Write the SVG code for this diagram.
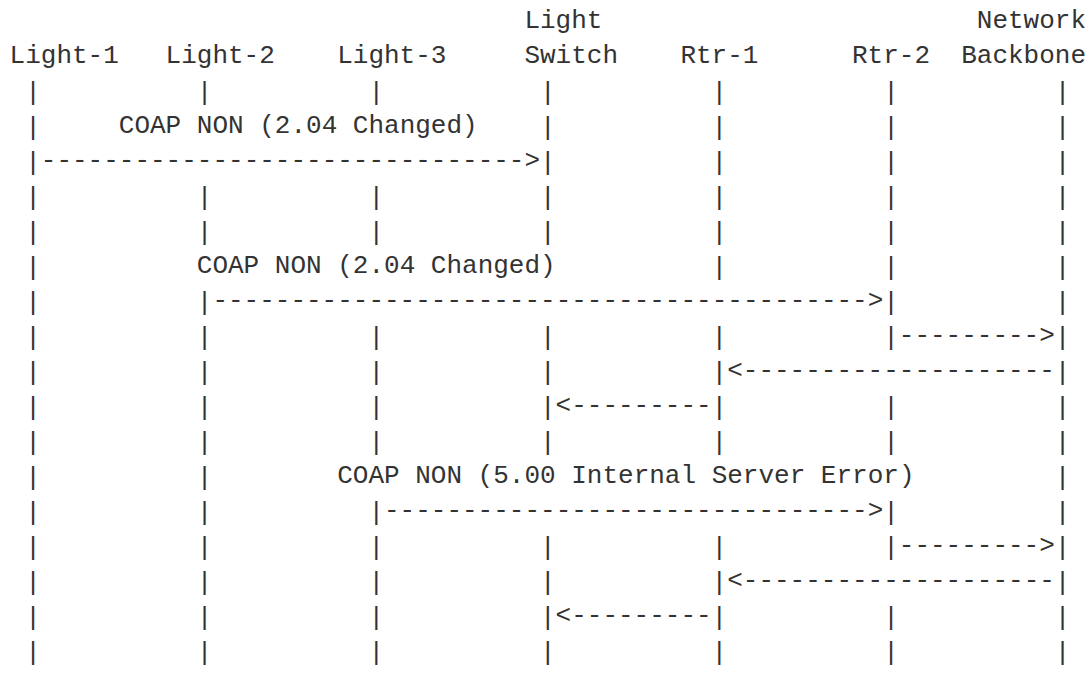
<svg xmlns="http://www.w3.org/2000/svg" width="1087" height="675" viewBox="0 0 1087 675">
<style>
text{font-family:"Liberation Mono","DejaVu Sans Mono",monospace;font-size:26px;fill:#333;white-space:pre}
</style>
<rect width="1087" height="675" fill="#fff"/>
<g id="light-1">
<text x="9.6" y="63.3">Light-1</text>
<text x="25.2"><tspan x="25.2" y="99.5">|</tspan><tspan x="25.2" y="134.5">|</tspan><tspan x="25.2" y="169.5">|</tspan><tspan x="25.2" y="204.5">|</tspan><tspan x="25.2" y="239.5">|</tspan><tspan x="25.2" y="274.5">|</tspan><tspan x="25.2" y="309.5">|</tspan><tspan x="25.2" y="344.5">|</tspan><tspan x="25.2" y="379.5">|</tspan><tspan x="25.2" y="414.5">|</tspan><tspan x="25.2" y="449.5">|</tspan><tspan x="25.2" y="484.5">|</tspan><tspan x="25.2" y="519.5">|</tspan><tspan x="25.2" y="554.5">|</tspan><tspan x="25.2" y="589.5">|</tspan><tspan x="25.2" y="624.5">|</tspan><tspan x="25.2" y="659.5">|</tspan></text>
</g>
<g id="light-2">
<text x="165.6" y="63.3">Light-2</text>
<text x="196.8"><tspan x="196.8" y="99.5">|</tspan><tspan x="196.8" y="204.5">|</tspan><tspan x="196.8" y="239.5">|</tspan><tspan x="196.8" y="309.5">|</tspan><tspan x="196.8" y="344.5">|</tspan><tspan x="196.8" y="379.5">|</tspan><tspan x="196.8" y="414.5">|</tspan><tspan x="196.8" y="449.5">|</tspan><tspan x="196.8" y="484.5">|</tspan><tspan x="196.8" y="519.5">|</tspan><tspan x="196.8" y="554.5">|</tspan><tspan x="196.8" y="589.5">|</tspan><tspan x="196.8" y="624.5">|</tspan><tspan x="196.8" y="659.5">|</tspan></text>
</g>
<g id="light-3">
<text x="337.2" y="63.3">Light-3</text>
<text x="368.4"><tspan x="368.4" y="99.5">|</tspan><tspan x="368.4" y="204.5">|</tspan><tspan x="368.4" y="239.5">|</tspan><tspan x="368.4" y="344.5">|</tspan><tspan x="368.4" y="379.5">|</tspan><tspan x="368.4" y="414.5">|</tspan><tspan x="368.4" y="449.5">|</tspan><tspan x="368.4" y="519.5">|</tspan><tspan x="368.4" y="554.5">|</tspan><tspan x="368.4" y="589.5">|</tspan><tspan x="368.4" y="624.5">|</tspan><tspan x="368.4" y="659.5">|</tspan></text>
</g>
<g id="light-switch">
<text x="524.4" y="28.3">Light</text>
<text x="524.4" y="63.3">Switch</text>
<text x="540"><tspan x="540" y="99.5">|</tspan><tspan x="540" y="134.5">|</tspan><tspan x="540" y="169.5">|</tspan><tspan x="540" y="204.5">|</tspan><tspan x="540" y="239.5">|</tspan><tspan x="540" y="344.5">|</tspan><tspan x="540" y="379.5">|</tspan><tspan x="540" y="414.5">|</tspan><tspan x="540" y="449.5">|</tspan><tspan x="540" y="554.5">|</tspan><tspan x="540" y="589.5">|</tspan><tspan x="540" y="624.5">|</tspan><tspan x="540" y="659.5">|</tspan></text>
</g>
<g id="rtr-1">
<text x="680.4" y="63.3">Rtr-1</text>
<text x="711.6"><tspan x="711.6" y="99.5">|</tspan><tspan x="711.6" y="134.5">|</tspan><tspan x="711.6" y="169.5">|</tspan><tspan x="711.6" y="204.5">|</tspan><tspan x="711.6" y="239.5">|</tspan><tspan x="711.6" y="274.5">|</tspan><tspan x="711.6" y="344.5">|</tspan><tspan x="711.6" y="379.5">|</tspan><tspan x="711.6" y="414.5">|</tspan><tspan x="711.6" y="449.5">|</tspan><tspan x="711.6" y="554.5">|</tspan><tspan x="711.6" y="589.5">|</tspan><tspan x="711.6" y="624.5">|</tspan><tspan x="711.6" y="659.5">|</tspan></text>
</g>
<g id="rtr-2">
<text x="852" y="63.3">Rtr-2</text>
<text x="883.2"><tspan x="883.2" y="99.5">|</tspan><tspan x="883.2" y="134.5">|</tspan><tspan x="883.2" y="169.5">|</tspan><tspan x="883.2" y="204.5">|</tspan><tspan x="883.2" y="239.5">|</tspan><tspan x="883.2" y="274.5">|</tspan><tspan x="883.2" y="309.5">|</tspan><tspan x="883.2" y="344.5">|</tspan><tspan x="883.2" y="414.5">|</tspan><tspan x="883.2" y="449.5">|</tspan><tspan x="883.2" y="519.5">|</tspan><tspan x="883.2" y="554.5">|</tspan><tspan x="883.2" y="624.5">|</tspan><tspan x="883.2" y="659.5">|</tspan></text>
</g>
<g id="network-backbone">
<text x="976.8" y="28.3">Network</text>
<text x="961.2" y="63.3">Backbone</text>
<text x="1054.8"><tspan x="1054.8" y="99.5">|</tspan><tspan x="1054.8" y="134.5">|</tspan><tspan x="1054.8" y="169.5">|</tspan><tspan x="1054.8" y="204.5">|</tspan><tspan x="1054.8" y="239.5">|</tspan><tspan x="1054.8" y="274.5">|</tspan><tspan x="1054.8" y="309.5">|</tspan><tspan x="1054.8" y="344.5">|</tspan><tspan x="1054.8" y="379.5">|</tspan><tspan x="1054.8" y="414.5">|</tspan><tspan x="1054.8" y="449.5">|</tspan><tspan x="1054.8" y="484.5">|</tspan><tspan x="1054.8" y="519.5">|</tspan><tspan x="1054.8" y="554.5">|</tspan><tspan x="1054.8" y="589.5">|</tspan><tspan x="1054.8" y="624.5">|</tspan><tspan x="1054.8" y="659.5">|</tspan></text>
</g>
<g id="connectors">
<text x="118.8" y="133.3">COAP NON (2.04 Changed)</text>
<text x="40.8" y="168.3">-------------------------------&gt;</text>
<text x="196.8" y="273.3">COAP NON (2.04 Changed)</text>
<text x="212.4" y="308.3">------------------------------------------&gt;</text>
<text x="898.8" y="343.3">---------&gt;</text>
<text x="727.2" y="378.3">&lt;--------------------</text>
<text x="555.6" y="413.3">&lt;---------</text>
<text x="337.2" y="483.3">COAP NON (5.00 Internal Server Error)</text>
<text x="384" y="518.3">-------------------------------&gt;</text>
<text x="898.8" y="553.3">---------&gt;</text>
<text x="727.2" y="588.3">&lt;--------------------</text>
<text x="555.6" y="623.3">&lt;---------</text>
</g>
</svg>
